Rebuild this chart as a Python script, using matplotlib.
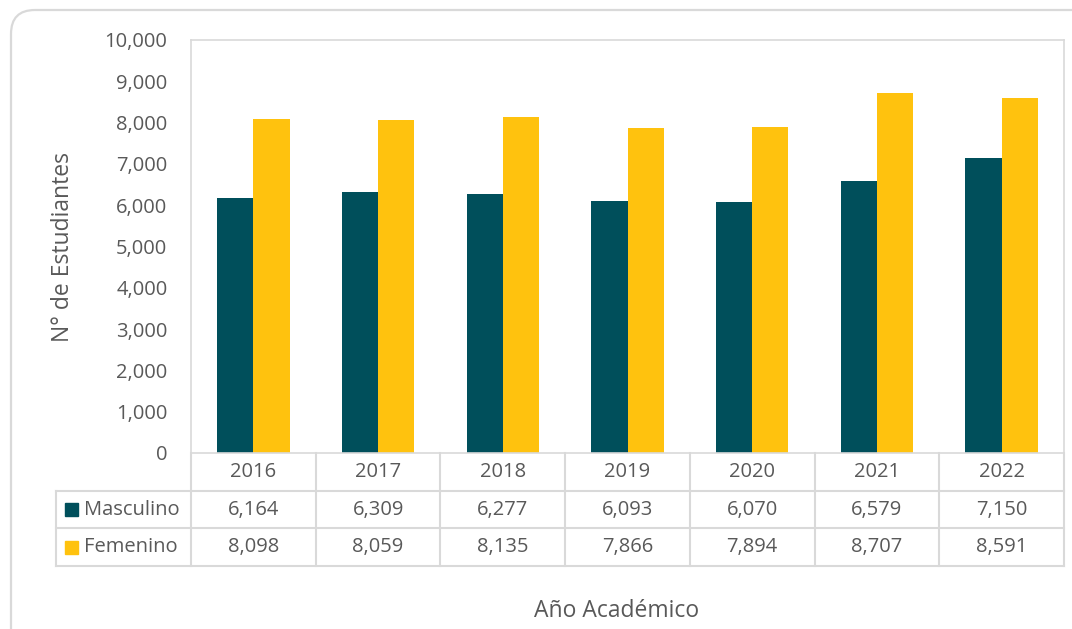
import matplotlib
matplotlib.use("Agg")
import matplotlib.pyplot as plt
from matplotlib.patches import FancyBboxPatch, Rectangle
from matplotlib.lines import Line2D

plt.rcParams['font.family'] = ['Open Sans', 'DejaVu Sans']

years = ["2016", "2017", "2018", "2019", "2020", "2021", "2022"]
masculino = [6164, 6309, 6277, 6093, 6070, 6579, 7150]
femenino = [8098, 8059, 8135, 7866, 7894, 8707, 8591]
series_names = ["Masculino", "Femenino"]

teal = "#004F5B"
gold = "#FFC20E"
txt = "#595959"
grid_c = "#D9D9D9"
fs = 14.5
fs_title = 16.5

W, H = 1072, 629
fig = plt.figure(figsize=(W / 100, H / 100), dpi=100)

# outer rounded frame, runs off the bottom/right edge like the screenshot
frame = FancyBboxPatch((0.11, -1.0), 12.0, H / 100 - 0.10 + 1.0,
                       boxstyle="round,pad=0,rounding_size=0.24",
                       transform=fig.dpi_scale_trans, fill=False,
                       edgecolor=grid_c, linewidth=1.6)
fig.patches.append(frame)

left, right, top, bottom = 191, 1064, 40, 453
ax = fig.add_axes([left / W, 1 - bottom / H, (right - left) / W, (bottom - top) / H])

x = range(len(years))
bw = 0.29
ax.bar([i - bw / 2 for i in x], masculino, bw, color=teal)
ax.bar([i + bw / 2 for i in x], femenino, bw, color=gold)

ax.set_xlim(-0.5, len(years) - 0.5)
ax.set_ylim(0, 10000)
ax.set_yticks(range(0, 10001, 1000))
ax.set_yticklabels([f"{v:,}" for v in range(0, 10001, 1000)])
ax.tick_params(axis='y', length=0, pad=17, labelsize=fs, labelcolor=txt)
ax.set_xticks([])
for s in ax.spines.values():
    s.set_color(grid_c)
    s.set_linewidth(1.2)

fig.text(63 / W, 1 - 247 / H, "N° de Estudiantes", rotation=90, ha='center',
         va='center', fontsize=fs_title, color=txt)
fig.text(617 / W, 1 - 611 / H, "Año Académico", ha='center', va='center',
         fontsize=fs_title, color=txt)

# data table under the axes, in axes-fraction units for y
rh = 37.7 / (bottom - top)
lx = -(left - 56) / (right - left)   # left edge of the label column
tr = ax.transAxes
bt = ax.get_xaxis_transform()


def hline(y, x0):
    ax.add_line(Line2D([x0, 1], [y, y], transform=tr, color=grid_c,
                       lw=1.5, clip_on=False))


def vline(xv, y0, y1, trans):
    ax.add_line(Line2D([xv, xv], [y0, y1], transform=trans, color=grid_c,
                       lw=1.5, clip_on=False))


hline(-rh, lx)
hline(-2 * rh, lx)
hline(-3 * rh, lx)
for b in range(len(years) + 1):
    vline(b - 0.5, 0, -3 * rh, bt)
vline(lx, -rh, -3 * rh, tr)

for i, yr in enumerate(years):
    ax.text(i, -0.5 * rh, yr, transform=bt, ha='center', va='center',
            fontsize=fs, color=txt)
    ax.text(i, -1.5 * rh, f"{masculino[i]:,}", transform=bt, ha='center',
            va='center', fontsize=fs, color=txt)
    ax.text(i, -2.5 * rh, f"{femenino[i]:,}", transform=bt, ha='center',
            va='center', fontsize=fs, color=txt)

ksz = 13 / (right - left)
ksz_y = 13 / (bottom - top)
for r, (name, col) in enumerate(zip(series_names, [teal, gold])):
    yc = -(1.5 + r) * rh
    ax.add_patch(Rectangle((lx + 9 / (right - left), yc - ksz_y / 2), ksz, ksz_y,
                           transform=tr, color=col, clip_on=False))
    ax.text(lx + 28 / (right - left), yc, name, transform=tr, ha='left',
            va='center', fontsize=fs, color=txt)

fig.savefig("out.png", dpi=100)
